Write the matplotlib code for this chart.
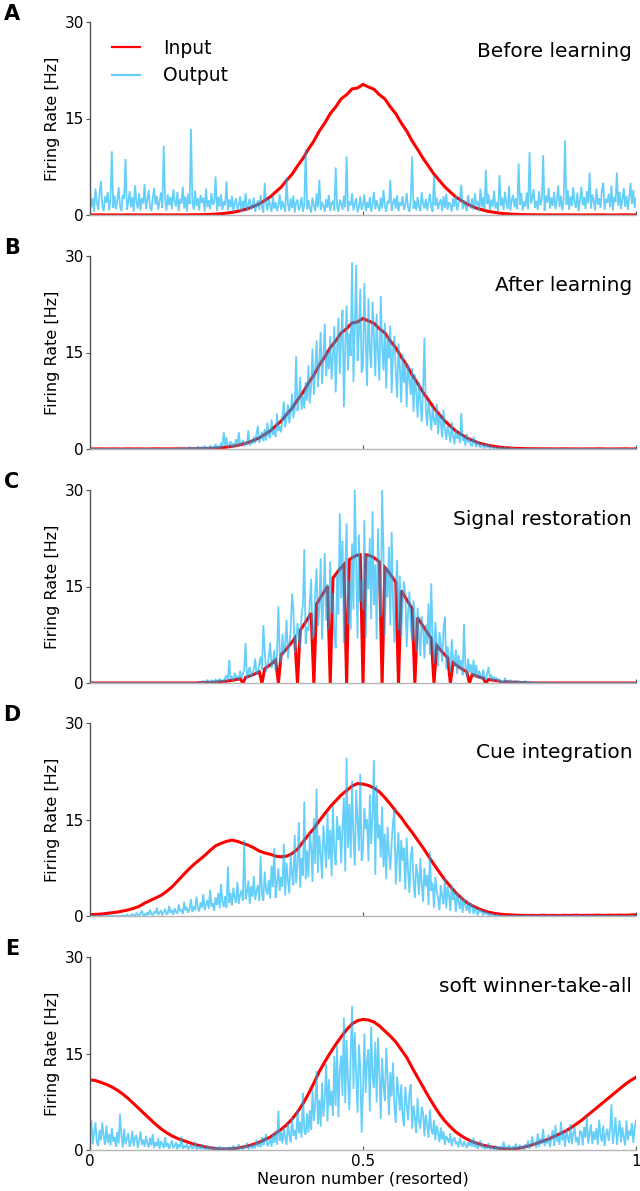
import numpy as np
import matplotlib
matplotlib.use("Agg")
import matplotlib.pyplot as plt
from matplotlib.lines import Line2D

# ---------------- data ----------------
panel_letters = ["A", "B", "C", "D", "E"]
panel_titles = ["Before learning", "After learning", "Signal restoration",
                "Cue integration", "soft winner-take-all"]
legend_labels = ["Input", "Output"]
y_ticks = [0, 15, 30]
x_ticks = [0, 0.5, 1]
x_tick_labels = ["0", "0.5", "1"]

# input rates, sampled every 0.01 of the (resorted) neuron axis
input_ab = [0.02, 0.01, 0.03, 0.0, 0.02, 0.01, 0.0, 0.03, 0.01, 0.02,
            0.0, 0.01, 0.03, 0.02, 0.01, 0.02, 0.03, 0.02, 0.03, 0.04,
            0.05, 0.07, 0.10, 0.14, 0.21, 0.29, 0.41, 0.56, 0.78, 1.02,
            1.36, 1.72, 2.27, 2.80, 3.58, 4.33, 5.37, 6.33, 7.62, 8.78,
            10.25, 11.50, 13.05, 14.30, 15.76, 16.80, 18.05, 18.70, 19.60, 19.75,
            20.30, 19.90, 19.55, 18.70, 18.05, 16.80, 15.75, 14.30, 13.05, 11.50,
            10.20, 8.80, 7.60, 6.35, 5.35, 4.35, 3.56, 2.80, 2.26, 1.73,
            1.35, 1.00, 0.77, 0.55, 0.42, 0.28, 0.21, 0.14, 0.10, 0.07,
            0.05, 0.04, 0.03, 0.02, 0.03, 0.01, 0.02, 0.03, 0.01, 0.02,
            0.0, 0.02, 0.01, 0.03, 0.02, 0.0, 0.01, 0.02, 0.03, 0.01, 0.02]

input_d = [0.20, 0.25, 0.30, 0.40, 0.50, 0.60, 0.77, 0.95, 1.20, 1.50,
           2.00, 2.40, 2.80, 3.20, 3.80, 4.50, 5.40, 6.30, 7.20, 8.00,
           8.70, 9.40, 10.2, 10.9, 11.3, 11.6, 11.8, 11.6, 11.3, 11.0,
           10.6, 10.1, 9.8, 9.6, 9.3, 9.2, 9.3, 9.7, 10.4, 11.5,
           12.6, 13.6, 14.8, 15.9, 17.0, 17.9, 18.8, 19.5, 20.2, 20.6,
           20.5, 20.3, 19.9, 19.3, 18.4, 17.4, 16.3, 15.3, 14.1, 13.0,
           11.8, 10.6, 9.3, 8.0, 6.8, 5.6, 4.6, 3.6, 2.8, 2.1,
           1.6, 1.2, 0.85, 0.6, 0.42, 0.3, 0.22, 0.17, 0.13, 0.10,
           0.08, 0.10, 0.07, 0.12, 0.08, 0.10, 0.06, 0.11, 0.09, 0.13,
           0.08, 0.12, 0.10, 0.14, 0.09, 0.13, 0.11, 0.15, 0.12, 0.16, 0.20]

input_e = [10.9, 10.8, 10.5, 10.2, 9.8, 9.3, 8.7, 8.0, 7.2, 6.4,
           5.6, 4.8, 4.0, 3.3, 2.7, 2.2, 1.8, 1.5, 1.2, 0.9,
           0.7, 0.5, 0.35, 0.22, 0.15, 0.15, 0.2, 0.3, 0.45, 0.65,
           0.9, 1.2, 1.6, 2.0, 2.6, 3.2, 3.9, 4.8, 5.9, 7.2,
           8.7, 10.4, 12.2, 13.7, 15.1, 16.4, 17.6, 18.7, 19.6, 20.1,
           20.3, 20.2, 19.9, 19.3, 18.5, 17.7, 16.8, 15.6, 14.4, 12.8,
           11.3, 9.8, 8.3, 6.9, 5.6, 4.5, 3.6, 2.8, 2.2, 1.7,
           1.3, 1.0, 0.75, 0.55, 0.4, 0.25, 0.18, 0.15, 0.2, 0.35,
           0.55, 0.8, 1.1, 1.4, 1.7, 2.1, 2.5, 2.9, 3.4, 4.0,
           4.6, 5.3, 6.0, 6.7, 7.4, 8.1, 8.8, 9.5, 10.2, 10.8, 11.3]

# input of panel C (partly silenced neurons), sampled every 0.005
input_c = ([0.0] * 40 +
           [0.05, 0.06, 0.08, 0.10, 0.10, 0.12, 0.14, 0.17, 0.21, 0.25,
            0.29, 0.35, 0.41, 0.49, 0.56, 0.66, 0.0, 0.88, 1.01, 1.17,
            1.34, 1.53, 1.74, 0.0, 2.24, 2.52, 2.83, 3.17, 3.54, 0.0,
            4.37, 4.83, 5.32, 5.83, 6.38, 6.96, 0.0, 8.18, 8.83, 9.49,
            10.17, 10.86, 0.0, 12.27, 12.98, 13.67, 14.36, 15.03, 0.0, 16.30,
            16.89, 17.45, 17.95, 18.41, 0.0, 19.17, 19.47, 19.70, 19.87, 19.93,
            0.0, 19.93, 19.87, 19.70, 19.47, 19.17, 18.82, 0.0, 17.95, 17.45,
            16.89, 16.30, 15.68, 0.0, 14.36, 13.67, 12.98, 12.27, 11.57, 0.0,
            10.17, 9.49, 8.83, 8.18, 7.56, 6.96, 0.0, 5.83, 5.32, 4.83,
            4.37, 3.94, 0.0, 3.17, 2.83, 2.52, 2.24, 1.98, 1.74, 0.0,
            1.34, 1.17, 1.01, 0.88, 0.76, 0.0, 0.56, 0.49, 0.41, 0.35,
            0.29, 0.0, 0.21, 0.17, 0.14, 0.12, 0.10, 0.08, 0.07, 0.06,
            0.05] + [0.0] * 40)

# output rates, sampled every 0.0025
output_a = [
    3.8, 1.2, 2.6, 0.5, 4.1, 2.0, 0.8, 3.3, 5.3, 1.5, 0.6, 2.9, 1.9, 3.6, 0.7, 2.4, 9.9, 1.1, 3.0, 0.9,
    2.2, 4.3, 1.4, 0.6, 3.1, 2.5, 8.7, 0.8, 1.9, 3.7, 1.2, 2.8, 0.5, 4.6, 2.1, 1.0, 3.4, 0.7, 2.6, 1.8,
    4.8, 0.9, 2.3, 3.9, 1.3, 0.6, 2.7, 4.2, 1.6, 3.0, 0.8, 2.1, 3.5, 1.1, 10.8, 2.4, 0.7, 3.2, 1.5, 2.8,
    0.9, 4.0, 2.2, 1.3, 3.6, 0.6, 2.5, 1.8, 4.4, 1.0, 2.9, 0.5, 3.3, 1.7, 13.4, 2.0, 0.8, 3.8, 1.4, 2.6,
    0.7, 3.1, 1.9, 2.7, 0.5, 4.1, 1.2, 2.3, 0.9, 3.4, 1.6, 2.0, 6.0, 0.6, 2.8, 1.3, 3.2, 0.8, 2.1, 1.5,
    5.2, 0.7, 2.4, 1.2, 3.0, 0.5, 1.9, 2.6, 0.8, 1.5, 2.9, 0.4, 2.2, 1.1, 3.4, 0.6, 1.7, 2.5, 0.9, 1.3,
    2.7, 0.5, 1.6, 2.3, 0.8, 3.1, 1.2, 0.4, 5.0, 1.8, 0.7, 2.5, 1.4, 0.5, 2.9, 1.0, 2.0, 0.6, 1.5, 3.2,
    0.8, 2.2, 1.3, 0.5, 5.8, 1.7, 0.6, 2.6, 1.1, 3.0, 0.4, 1.9, 2.4, 0.7, 1.4, 2.8, 0.5, 1.6, 10.2, 0.9,
    2.3, 1.0, 0.4, 2.7, 1.5, 0.6, 3.3, 1.2, 5.5, 0.8, 2.0, 1.4, 0.5, 2.5, 1.1, 3.1, 0.6, 1.8, 2.2, 0.7,
    7.4, 1.3, 0.5, 2.4, 1.7, 0.8, 3.0, 1.2, 9.1, 0.6, 2.1, 1.5, 3.4, 0.7, 1.8, 2.6, 0.4, 1.2, 2.9, 0.8,
    1.6, 3.2, 0.6, 2.0, 1.1, 2.8, 0.5, 1.7, 3.6, 0.9, 2.3, 1.3, 0.6, 2.7, 1.0, 3.9, 1.4, 0.5, 2.2, 1.8,
    5.5, 0.7, 1.9, 2.6, 1.0, 3.1, 0.6, 2.0, 1.4, 2.9, 0.8, 1.6, 3.4, 1.2, 0.5, 2.4, 9.1, 1.0, 2.2, 0.7,
    2.8, 1.3, 0.6, 3.6, 1.8, 1.0, 2.5, 0.7, 2.1, 3.3, 1.2, 0.5, 6.0, 1.5, 2.7, 0.9, 1.9, 2.4, 0.6, 2.9,
    1.1, 3.3, 0.8, 2.0, 1.6, 0.5, 2.6, 1.3, 3.0, 0.7, 1.8, 2.4, 4.7, 0.9, 2.2, 1.4, 0.6, 3.1, 1.7, 1.0,
    2.6, 0.8, 3.4, 1.5, 2.1, 0.6, 4.1, 1.2, 2.8, 0.9, 7.0, 1.7, 3.2, 0.7, 2.4, 1.3, 3.8, 1.0, 2.0, 0.6,
    6.2, 1.4, 2.7, 0.8, 3.6, 1.9, 1.0, 4.5, 0.7, 2.3, 3.1, 1.2, 2.6, 0.9, 8.0, 1.6, 3.4, 0.7, 2.1, 1.3,
    3.5, 0.9, 9.8, 1.8, 2.6, 4.0, 1.1, 2.2, 0.8, 3.7, 1.5, 2.4, 9.3, 0.7, 3.0, 1.9, 4.2, 1.0, 2.7, 1.4,
    3.6, 0.9, 2.3, 4.6, 1.2, 3.0, 0.7, 2.5, 11.6, 1.6, 3.9, 0.8, 2.9, 1.4, 4.3, 2.0, 1.1, 3.5, 0.6, 2.4,
    4.4, 1.5, 2.8, 0.9, 3.7, 1.8, 6.6, 1.0, 3.2, 2.2, 0.7, 4.1, 1.6, 2.6, 1.1, 3.9, 5.0, 0.8, 2.5, 1.9,
    3.3, 1.2, 4.6, 0.7, 2.8, 2.0, 6.6, 1.4, 3.6, 0.9, 2.4, 4.2, 1.3, 3.0, 0.8, 2.6, 5.0, 1.7, 3.9, 1.1,
    2.6]

output_b = ([0.0] * 64 + [
    0.0, 0.1, 0.0, 0.0, 0.2, 0.0, 0.1, 0.0, 0.0, 0.3, 0.0, 0.1, 0.0, 0.2, 0.0, 0.4, 0.1, 0.0,
    0.3, 0.0, 0.5, 0.1, 0.2, 0.0, 0.6, 0.1, 0.3, 0.0, 0.8, 0.2, 0.4, 0.1, 1.0, 0.3, 2.6, 0.5,
    1.8, 0.3, 0.7, 1.2, 0.2, 0.9, 0.4, 1.5, 0.3, 2.6, 0.6, 0.9, 1.4, 0.4, 1.1, 0.7, 2.9, 0.5, 1.3, 0.8,
    1.9, 0.9, 2.4, 3.6, 1.0, 1.6, 2.7, 1.2, 3.1, 1.3, 4.1, 2.0, 1.7, 4.6, 2.2, 3.0, 1.9, 5.5, 2.8, 3.6,
    2.6, 5.1, 7.4, 3.4, 4.8, 6.9, 4.0, 5.7, 8.6, 4.8, 6.2, 14.4, 5.9, 7.7, 11.2, 6.1, 8.3, 6.3, 10.4, 7.5,
    13.0, 7.1, 9.8, 15.6, 8.4, 12.3, 16.9, 9.6, 13.5, 18.2, 10.1, 14.2, 19.5, 11.3, 15.0, 12.4, 17.6, 10.8, 14.6, 19.1,
    8.8, 15.4, 20.4, 11.7, 17.3, 21.6, 6.5, 16.2, 22.3, 12.2, 18.0, 14.5, 29.0, 10.4, 19.1, 28.6, 13.7, 17.8, 24.9, 11.9,
    13.0, 25.8, 16.4, 9.8, 23.4, 15.1, 12.6, 22.9, 17.5, 11.3, 21.0, 14.9, 10.6, 23.8, 16.0, 12.2, 19.6, 9.4, 17.7, 14.1,
    19.2, 8.7, 15.3, 17.6, 11.9, 8.0, 16.4, 12.7, 7.2, 14.8, 10.3, 13.5, 6.5, 13.1, 11.0, 8.4, 12.6, 5.8, 11.6, 9.0,
    4.9, 10.4, 7.6, 4.2, 9.2, 17.3, 6.1, 3.6, 7.5, 5.5, 2.9, 6.6, 4.4, 3.8, 7.0, 2.3, 5.4, 4.1, 1.8, 6.1,
    3.2, 1.4, 3.6, 2.5, 1.0, 4.2, 2.0, 0.7, 3.0, 1.6, 2.4, 0.9, 5.6, 1.3, 1.9, 0.5, 2.4, 1.0, 1.6, 0.6,
    0.5, 1.9, 0.8, 0.3, 1.2, 0.6, 0.2, 0.9, 0.4, 0.1, 0.8, 0.3, 0.5, 0.1, 0.4, 0.2, 0.0, 0.3, 0.1, 0.0,
    0.2, 0.0, 0.1, 0.0, 0.3, 0.0, 0.0, 0.1, 0.0, 0.2] + [0.0] * 91)

output_c = ([0.0] * 80 + [
    0.0, 0.1, 0.0, 0.3, 0.0, 0.2, 0.5, 0.0, 0.1, 0.4, 0.2, 0.0, 0.6, 0.1, 0.3, 0.7, 0.2, 0.5, 0.1, 0.8,
    1.2, 0.4, 3.6, 0.6, 1.0, 0.3, 1.6, 0.8, 1.1, 0.5, 1.9, 0.7, 1.4, 2.1, 6.2, 0.6, 1.7, 2.5, 0.9, 1.4,
    2.2, 3.8, 1.3, 1.7, 2.9, 4.1, 2.1, 9.0, 4.9, 1.8, 2.6, 4.0, 6.3, 2.4, 3.4, 5.1, 2.0, 4.4, 11.9, 4.6,
    3.2, 7.6, 4.5, 6.0, 9.8, 3.8, 5.9, 8.1, 13.9, 11.4, 4.7, 6.4, 9.3, 7.2, 5.4, 10.6, 12.2, 20.8, 6.1, 8.7,
    8.1, 12.5, 16.2, 6.9, 7.5, 14.3, 17.8, 8.9, 11.6, 19.4, 6.8, 13.1, 20.2, 9.7, 15.4, 8.3, 18.9, 10.8, 14.0, 7.6,
    5.4, 16.8, 10.6, 26.4, 13.2, 22.1, 6.2, 17.5, 24.8, 9.1, 15.9, 8.3, 21.7, 11.4, 30.0, 18.3, 6.9, 23.1, 12.7, 16.0,
    11.4, 25.3, 7.0, 19.8, 14.6, 22.5, 9.9, 26.7, 12.1, 18.4, 6.8, 24.0, 15.2, 10.3, 30.0, 20.6, 7.4, 17.9, 13.3, 21.2,
    9.0, 23.5, 12.4, 6.3, 14.9, 19.1, 8.2, 16.7, 7.1, 12.5, 15.8, 13.9, 5.6, 11.0, 14.2, 8.8, 6.5, 12.8, 10.1, 4.9,
    11.7, 7.3, 4.2, 10.3, 8.6, 3.8, 9.1, 6.0, 12.4, 4.4, 15.5, 7.2, 3.0, 9.5, 5.8, 2.6, 7.9, 6.1, 3.3, 8.5,
    10.3, 2.1, 5.7, 4.0, 1.6, 6.8, 3.4, 2.7, 5.2, 1.4, 4.4, 2.2, 3.6, 1.2, 9.2, 2.5, 0.9, 3.8, 1.6, 2.9,
    1.2, 3.6, 0.9, 2.8, 0.7, 1.9, 1.3, 0.5, 2.1, 1.0, 0.4, 1.5, 2.5, 0.6, 1.3, 0.3, 1.0, 0.5, 0.8, 0.2,
    0.6, 0.1, 0.4, 0.0, 0.8, 0.2, 0.3, 0.0, 0.5, 0.1, 0.2, 0.0, 0.4, 0.0, 0.3, 0.1, 0.0, 0.2, 0.0, 0.3,
    0.0, 0.1, 0.0, 0.2, 0.0, 0.0, 0.1, 0.0, 0.0, 0.1, 0.0, 0.0, 0.0, 0.1, 0.0, 0.0, 0.0, 0.0, 0.0, 0.0]
    + [0.0] * 61)

output_d = ([0.0] * 24 + [
    0.1, 0.0, 0.0, 0.2, 0.0, 0.1,
    0.0, 0.3, 0.1, 0.0, 0.5, 0.2, 0.0, 0.4, 0.8, 0.1, 0.3, 0.0, 0.6, 0.2, 1.0,
    0.3, 0.1, 0.7, 0.4, 1.3, 0.2, 0.5, 0.9, 0.1, 0.6, 1.1, 0.3, 0.4, 1.6, 0.5,
    0.9, 0.2, 1.2, 0.6, 0.4, 1.8, 0.7, 1.0, 0.3, 2.2, 0.8, 1.4, 0.5, 1.1, 2.6, 0.6, 1.5, 0.9, 3.0, 1.2,
    0.7, 2.1, 1.3, 3.4, 0.9, 1.8, 2.5, 1.1, 4.1, 1.5, 2.0, 0.8, 2.9, 1.7, 3.6, 1.2, 5.0, 2.2, 1.4, 3.1,
    1.3, 7.7, 2.0, 3.6, 1.6, 4.4, 2.8, 2.1, 5.3, 1.9, 3.3, 4.0, 2.4, 11.8, 2.6, 3.7, 5.5, 1.9, 4.6, 3.0,
    6.2, 2.5, 3.9, 4.8, 2.3, 9.4, 3.4, 2.4, 6.9, 4.1, 3.3, 5.6, 2.7, 7.8, 4.5, 10.6, 2.8, 5.2, 7.4, 3.9,
    6.1, 4.6, 11.2, 3.2, 8.3, 5.5, 3.5, 9.7, 6.4, 4.8, 12.6, 5.1, 7.9, 14.6, 4.4, 9.0, 6.3, 17.8, 5.7, 10.2,
    6.0, 12.9, 10.9, 5.3, 15.2, 8.1, 19.8, 6.7, 12.5, 9.6, 5.8, 14.1, 11.0, 7.4, 16.0, 8.8, 13.4, 6.2, 17.1, 9.9,
    7.9, 15.5, 11.8, 14.0, 8.2, 13.7, 18.4, 6.9, 24.6, 10.6, 17.4, 9.0, 21.0, 12.3, 7.8, 19.6, 14.8, 10.1, 22.1, 8.6,
    10.4, 16.8, 13.5, 15.0, 8.5, 18.9, 11.2, 15.7, 24.2, 6.4, 20.3, 12.1, 14.2, 9.1, 17.0, 7.6, 12.8, 5.7, 13.9, 9.8,
    7.2, 11.4, 14.6, 16.5, 4.9, 9.7, 13.0, 5.3, 11.8, 8.6, 10.6, 4.1, 12.2, 7.0, 3.6, 9.3, 10.8, 5.5, 2.8, 8.1,
    6.4, 3.3, 9.0, 5.0, 2.2, 7.5, 4.6, 6.4, 1.7, 10.0, 3.9, 5.2, 1.3, 6.1, 4.0, 2.7, 0.9, 4.8, 3.1, 1.8,
    5.8, 1.2, 4.6, 3.3, 0.8, 4.9, 2.5, 3.8, 0.6, 3.6, 2.2, 1.1, 3.0, 0.5, 2.6, 1.7, 0.8, 2.2, 0.4, 1.9,
    1.6, 0.3, 1.4, 0.8, 0.1, 1.1, 0.6, 0.9, 0.1, 0.7, 0.3, 0.6, 0.0, 0.4, 0.1, 0.3, 0.1, 0.0, 0.2, 0.0]
    + [0.0] * 101)

output_e = [
    1.8, 4.6, 0.9, 2.7, 4.3, 1.2, 0.6, 3.1, 1.5, 4.3, 2.2, 0.8, 3.8, 1.1, 2.5, 0.7, 3.4, 1.3, 2.0, 0.5,
    2.8, 1.0, 5.6, 2.4, 0.4, 3.3, 0.9, 1.7, 2.6, 0.5, 1.2, 3.0, 0.6, 1.9, 2.3, 0.3, 1.4, 2.9, 0.8, 1.6,
    0.5, 2.2, 1.1, 0.4, 1.9, 0.7, 2.5, 0.3, 1.2, 0.6, 1.8, 0.2, 1.4, 0.9, 0.3, 2.0, 0.5, 1.1, 0.2, 0.8,
    1.5, 0.3, 0.6, 1.2, 0.1, 0.9, 0.4, 2.1, 0.2, 0.7, 0.3, 1.0, 0.1, 0.5, 0.8, 0.2, 0.4, 1.3, 0.1, 0.3,
    0.6, 0.1, 0.9, 0.2, 0.3, 0.1, 0.7, 0.0, 0.4, 0.2, 0.1, 0.5, 0.0, 0.3, 0.1, 0.6, 0.0, 0.2, 0.4, 0.1,
    0.3, 0.0, 0.5, 0.2, 0.1, 0.7, 0.0, 0.3, 0.1, 0.9, 0.2, 0.4, 0.0, 0.6, 0.3, 1.1, 0.1, 0.4, 0.8, 0.2,
    0.9, 0.3, 1.6, 0.5, 1.2, 0.4, 2.0, 0.7, 1.3, 2.5, 0.6, 1.0, 1.8, 0.5, 2.4, 1.1, 3.0, 0.8, 6.1, 1.4,
    2.8, 1.0, 3.5, 1.9, 0.8, 4.1, 2.3, 1.2, 5.0, 2.2, 3.1, 1.6, 6.3, 2.6, 4.4, 1.9, 8.9, 3.0, 2.4, 5.7,
    2.7, 6.2, 3.1, 9.4, 4.5, 7.2, 12.3, 4.0, 7.8, 3.6, 10.5, 5.2, 8.1, 13.4, 4.4, 11.0, 6.8, 9.2, 5.3, 14.6,
    6.9, 16.2, 5.1, 12.5, 14.7, 8.4, 20.6, 7.3, 17.1, 10.8, 6.2, 15.0, 22.4, 9.5, 18.3, 11.6, 5.8, 16.4, 12.9, 2.7,
    9.4, 18.1, 8.9, 14.0, 15.6, 6.0, 19.2, 11.3, 9.7, 16.8, 7.4, 17.5, 12.2, 4.8, 14.3, 10.1, 7.6, 15.9, 11.5, 5.4,
    12.1, 8.3, 13.6, 6.7, 4.2, 11.4, 9.0, 6.1, 10.2, 5.3, 3.7, 9.8, 7.2, 4.6, 8.8, 10.2, 3.3, 6.9, 5.0, 2.6,
    8.1, 4.4, 3.3, 6.7, 5.9, 2.1, 5.5, 4.0, 1.9, 6.3, 3.2, 2.4, 4.6, 1.5, 3.8, 2.7, 1.2, 3.5, 1.6, 2.9,
    0.8, 2.2, 1.7, 1.1, 2.6, 0.6, 1.6, 2.0, 0.9, 1.3, 0.4, 1.9, 1.0, 0.5, 1.4, 0.8, 0.3, 1.2, 0.6, 1.6,
    0.5, 1.9, 0.4, 1.2, 0.2, 0.8, 1.5, 0.3, 0.9, 0.1, 0.6, 0.2, 1.1, 0.1, 0.5, 0.3, 0.0, 0.7, 0.2, 0.4,
    0.1, 0.6, 0.0, 1.3, 0.2, 0.5, 0.1, 0.8, 0.3, 0.0, 0.6, 0.2, 1.0, 0.1, 0.4, 0.8, 0.2, 0.5, 0.0, 0.9,
    0.4, 1.5, 0.2, 0.9, 2.1, 0.7, 1.2, 0.3, 2.6, 0.5, 1.8, 0.9, 3.3, 0.6, 1.6, 1.0, 2.4, 0.4, 1.9, 3.1,
    0.6, 3.9, 1.3, 2.2, 0.8, 4.4, 1.5, 2.7, 0.5, 3.2, 1.9, 1.1, 4.0, 0.9, 2.5, 3.6, 1.2, 2.0, 0.7, 3.0,
    2.8, 0.7, 3.6, 1.9, 5.2, 1.0, 2.5, 4.0, 0.9, 2.9, 1.6, 3.4, 0.8, 4.7, 2.2, 1.3, 3.8, 0.6, 2.4, 3.3,
    1.4, 3.2, 7.1, 1.0, 2.7, 5.1, 0.8, 2.6, 4.6, 1.2, 3.5, 2.0, 0.7, 4.6, 1.5, 3.0, 2.2, 4.2, 1.1, 3.4,
    4.6]

inputs = [input_ab, input_ab, input_c, input_d, input_e]
outputs = [output_a, output_b, output_c, output_d, output_e]

# ---------------- style ----------------
RED = "#ff0000"
BLUE = (0.0, 0.69, 0.966)
BLUE_ALPHA = 0.6

W, H = 640, 1191
fig = plt.figure(figsize=(W / 100, H / 100), dpi=100)

ax_left = 90 / W
ax_w = 546 / W
ax_h = 193 / H
ax_bottoms_px = [215, 449, 683, 916, 1150]

for k in range(5):
    b = 1 - ax_bottoms_px[k] / H
    ax = fig.add_axes([ax_left, b, ax_w, ax_h])
    yin = np.asarray(inputs[k], dtype=float)
    yout = np.asarray(outputs[k], dtype=float)
    xin = np.linspace(0, 1, len(yin))
    xout = np.linspace(0, 1, len(yout))
    ax.plot(xin, yin, color=RED, lw=2.2, solid_joinstyle="miter")
    ax.plot(xout, yout, color=BLUE, alpha=BLUE_ALPHA, lw=1.3,
            solid_joinstyle="miter")

    ax.set_xlim(0, 1)
    ax.set_ylim(0, 30)
    ax.set_yticks(y_ticks)
    ax.set_yticklabels([str(t) for t in y_ticks])
    ax.set_xticks(x_ticks)
    if k == 4:
        ax.set_xticklabels(x_tick_labels)
        ax.set_xlabel("Neuron number (resorted)", fontsize=11.5, labelpad=2)
    else:
        ax.set_xticklabels([])
    ax.set_ylabel("Firing Rate [Hz]", fontsize=11.5, labelpad=3)

    for s in ["top", "right"]:
        ax.spines[s].set_visible(False)
    ax.spines["left"].set_color("#555555")
    ax.spines["left"].set_linewidth(1.0)
    ax.spines["bottom"].set_color("#b5b5b5")
    ax.spines["bottom"].set_linewidth(1.0)
    ax.tick_params(axis="y", direction="out", length=3, width=0.8,
                   colors="#555555", labelcolor="black", labelsize=11, pad=1.5)
    ax.tick_params(axis="x", direction="in", length=3, width=0.8,
                   colors="#555555", labelcolor="black", labelsize=11, pad=3)

    ax.text(0.993, 0.845, panel_titles[k], transform=ax.transAxes,
            ha="right", va="center", fontsize=14.5)

    fig.text(12 / W, 1 - (ax_bottoms_px[k] - 201) / H, panel_letters[k],
             ha="center", va="center", fontsize=15, fontweight="bold")

    if k == 0:
        handles = [Line2D([], [], color=RED, lw=1.6),
                   Line2D([], [], color=BLUE, alpha=BLUE_ALPHA, lw=1.6)]
        ax.legend(handles, legend_labels, loc="upper left",
                  bbox_to_anchor=(0.02, 0.97), frameon=False, fontsize=13.5,
                  handlelength=1.5, handletextpad=1.2, labelspacing=0.45,
                  borderaxespad=0.2)

fig.savefig("out.png", dpi=100)
